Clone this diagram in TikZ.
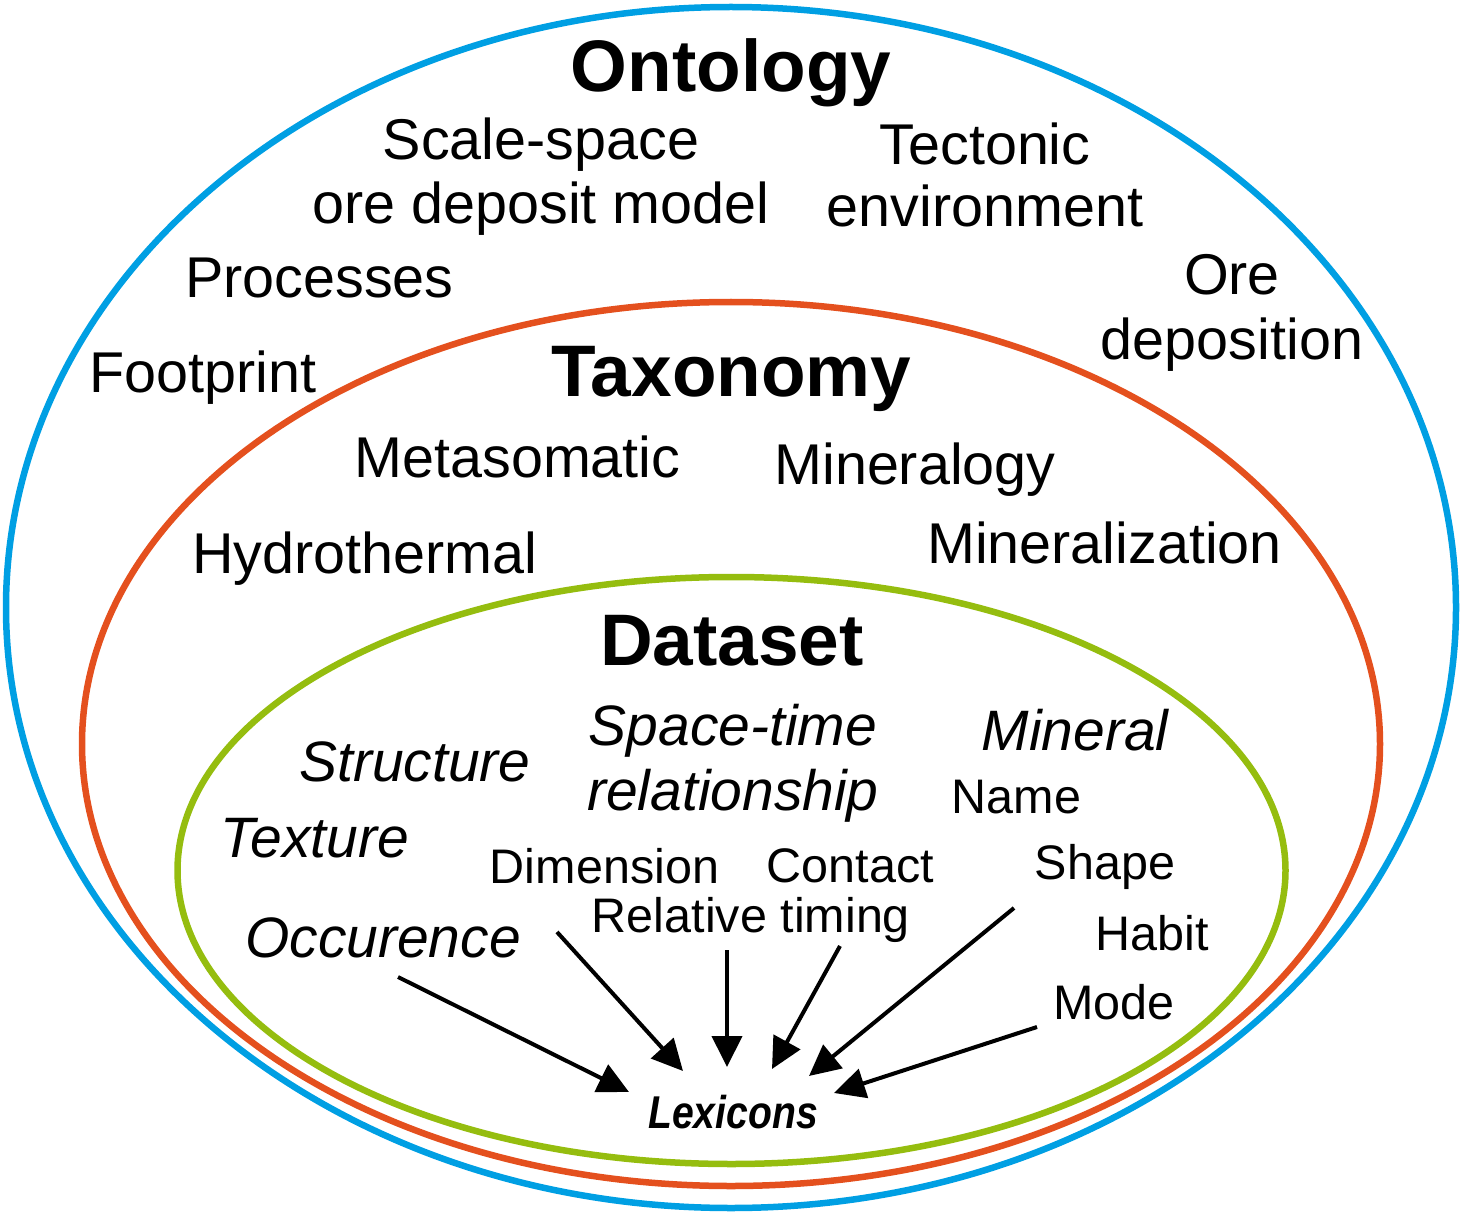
\documentclass[tikz,border=0pt]{standalone}
\usepackage{fontspec}
\setmainfont{Liberation Sans}
\newfontfamily\lexfont[FakeStretch=0.85]{Liberation Sans}
\usetikzlibrary{arrows.meta}
\definecolor{ontoblue}{HTML}{009FE3}
\definecolor{taxored}{HTML}{E4501E}
\definecolor{datagreen}{HTML}{95BD0F}
\tikzset{
  every node/.style={inner sep=0pt, outer sep=0pt, anchor=base, text=black},
  ring/.style={line width=3.25pt},
  head/.style={font=\fontsize{36.5}{40}\selectfont\bfseries},
  lbl/.style={font=\fontsize{28.75}{32}\selectfont},
  ital/.style={font=\fontsize{28.5}{32}\selectfont\itshape},
  sml/.style={font=\fontsize{24.25}{28}\selectfont},
  lex/.style={font=\lexfont\fontsize{23}{26}\selectfont\bfseries\itshape},
  arr/.style={line width=2pt, -{Triangle[length=15.5pt,width=15pt]}}
}
\begin{document}
\begin{tikzpicture}[x=0.5pt,y=-0.5pt]
\useasboundingbox (0,0) rectangle (1462,1214);
% rings
\draw[ring, ontoblue] (731,607.5) ellipse [x radius=362.5pt, y radius=300.25pt];
\draw[ring, taxored] (731,744) ellipse [x radius=324.5pt, y radius=221pt];
\draw[ring, datagreen] (731.5,870.5) ellipse [x radius=277pt, y radius=146.75pt];
% ontology level
\node[head] (onto) at (731,92) {Ontology};
\node[lbl] (scale1) at (541,160) {Scale-space};
\node[lbl] (scale2) at (541,224) {ore deposit model};
\node[lbl] (tect1) at (985,165) {Tectonic};
\node[lbl] (tect2) at (985,227) {environment};
\node[lbl] (proc) at (319.5,298) {Processes};
\node[lbl] (ore1) at (1232,295) {Ore};
\node[lbl] (ore2) at (1232,359) {deposition};
\node[lbl] (foot) at (203,393) {Footprint};
% taxonomy level
\node[head] (taxo) at (731.5,396) {Taxonomy};
\node[lbl] (meta) at (517.5,477) {Metasomatic};
\node[lbl] (minlogy) at (915,484) {Mineralogy};
\node[lbl] (hydro) at (365,573) {Hydrothermal};
\node[lbl] (minzn) at (1104.5,563) {Mineralization};
% dataset level
\node[head] (data) at (732,665) {Dataset};
\node[ital] (st1) at (733,745) {Space-time};
\node[ital] (st2) at (733,810) {relationship};
\node[ital] (mineral) at (1075,750) {Mineral};
\node[ital] (struct) at (415,781) {Structure};
\node[sml] (name) at (1016.5,813) {Name};
\node[ital] (text) at (315,857) {Texture};
\node[sml] (dim) at (604.5,883) {Dimension};
\node[sml] (cont) at (850.5,882) {Contact};
\node[sml] (shape) at (1105,879) {Shape};
\node[sml] (rel) at (751,932) {Relative timing};
\node[sml] (habit) at (1152,950) {Habit};
\node[ital] (occ) at (383,957) {Occurence};
\node[sml] (mode) at (1114,1019) {Mode};
\node[lex] (lexi) at (733,1128) {Lexicons};
% arrow ends
\coordinate (s1) at (398,977);   \coordinate (e1) at (629,1092);
\coordinate (s2) at (557,932);   \coordinate (e2) at (683,1071);
\coordinate (s3) at (727,950);   \coordinate (e3) at (727,1067);
\coordinate (s4) at (840,946);   \coordinate (e4) at (772,1069);
\coordinate (s5) at (1014,908);  \coordinate (e5) at (809,1076);
\coordinate (s6) at (1037,1027); \coordinate (e6) at (834,1093);
\draw[arr] (s1) -- (e1);
\draw[arr] (s2) -- (e2);
\draw[arr] (s3) -- (e3);
\draw[arr] (s4) -- (e4);
\draw[arr] (s5) -- (e5);
\draw[arr] (s6) -- (e6);
\end{tikzpicture}
\end{document}
